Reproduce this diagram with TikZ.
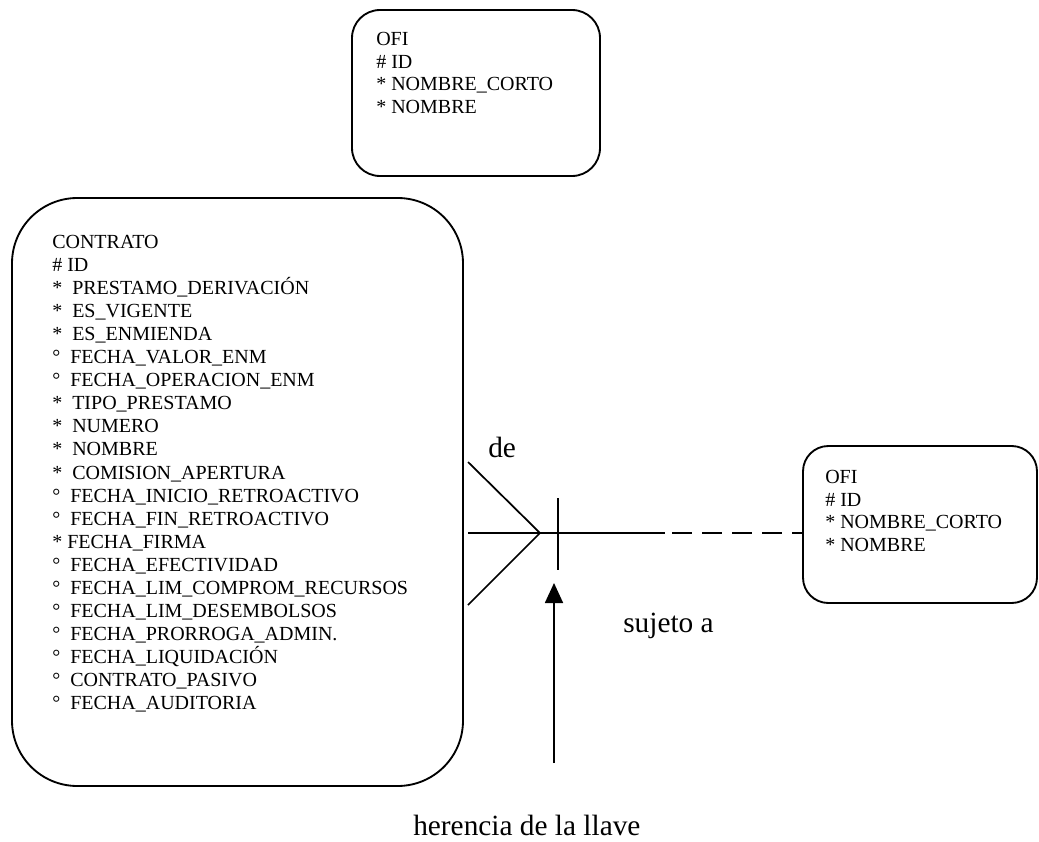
\documentclass[tikz,border=0pt]{standalone}
\usepackage{fontspec}
\setmainfont{Liberation Serif}
\usetikzlibrary{arrows.meta,fit}
\begin{document}
\begin{tikzpicture}[x=0.75pt,y=-0.75pt,
  entity/.style={draw, line width=1.4pt, inner sep=0pt},
  attr/.style={anchor=base west, inner sep=0pt, font=\fontsize{15pt}{17pt}\selectfont},
  lbl/.style={anchor=base west, inner sep=0pt, font=\fontsize{22pt}{26pt}\selectfont},
  link/.style={line width=1.3pt}]
\useasboundingbox (0,0) rectangle (1039,842);

% entity boxes
\node[entity, rounded corners=21pt, fit={(352,10) (600,176)}] (ofiA) {};
\node[entity, rounded corners=49pt, fit={(12,198) (463,786)}] (contrato) {};
\node[entity, rounded corners=19pt, fit={(803,446) (1037,603)}] (ofiB) {};

% OFI (top)
\foreach \t [count=\i] in {{OFI},{\# ID},{* NOMBRE\_CORTO},{* NOMBRE}}
  \node[attr] (ofiA\i) at (376,{45.5+22.7*(\i-1)}) {\t};

% OFI (right)
\foreach \t [count=\i] in {{OFI},{\# ID},{* NOMBRE\_CORTO},{* NOMBRE}}
  \node[attr] (ofiB\i) at (825,{483.5+22.7*(\i-1)}) {\t};

% CONTRATO attributes
\foreach \t [count=\i] in {
  {CONTRATO},
  {\# ID},
  {*\enspace PRESTAMO\_DERIVACIÓN},
  {*\enspace ES\_VIGENTE},
  {*\enspace ES\_ENMIENDA},
  {°\enspace FECHA\_VALOR\_ENM},
  {°\enspace FECHA\_OPERACION\_ENM},
  {*\enspace TIPO\_PRESTAMO},
  {*\enspace NUMERO},
  {*\enspace NOMBRE},
  {*\enspace COMISION\_APERTURA},
  {°\enspace FECHA\_INICIO\_RETROACTIVO},
  {°\enspace FECHA\_FIN\_RETROACTIVO},
  {* FECHA\_FIRMA},
  {°\enspace FECHA\_EFECTIVIDAD},
  {°\enspace FECHA\_LIM\_COMPROM\_RECURSOS},
  {°\enspace FECHA\_LIM\_DESEMBOLSOS},
  {°\enspace FECHA\_PRORROGA\_ADMIN.},
  {°\enspace FECHA\_LIQUIDACIÓN},
  {°\enspace CONTRATO\_PASIVO},
  {°\enspace FECHA\_AUDITORIA}}
  \node[attr] (con\i) at (52,{248.5+23.05*(\i-1)}) {\t};

% relationship: crow's foot on CONTRATO, bar toward OFI
\coordinate (apex) at (540,533);
\coordinate (footUp) at (468,462);
\coordinate (footMid) at (468,533);
\coordinate (footLow) at (468,605);
\coordinate (solidEnd) at (665,533);
\coordinate (dashStart) at (672,533);
\coordinate (barTop) at (558,498);
\coordinate (barBot) at (558,570);
\draw[link] (footUp) -- (apex) -- (footLow);
\draw[link] (footMid) -- (solidEnd);
\draw[link, dash pattern=on 15pt off 7.5pt] (dashStart) -- (ofiB.west |- apex);
\draw[link] (barTop) -- (barBot);

% inherited key arrow
\coordinate (keyFoot) at (554,763);
\coordinate (keyTip) at (554,583);
\draw[link, -{Triangle[width=13.5pt,length=15pt]}] (keyFoot) -- (keyTip);

% labels
\node[lbl] (lde) at (488,457) {de};
\node[lbl] (lsujeto) at (623,632) {sujeto a};
\node[lbl] (lherencia) at (413,835) {herencia de la llave};
\end{tikzpicture}
\end{document}
